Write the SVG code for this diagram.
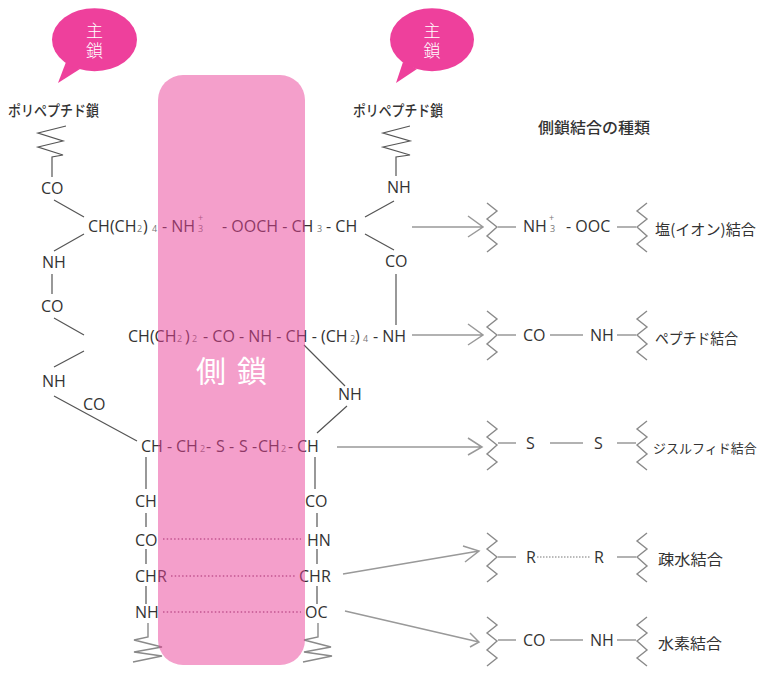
<svg xmlns="http://www.w3.org/2000/svg" xmlns:xlink="http://www.w3.org/1999/xlink" width="763" height="679" viewBox="0 0 763 679">
<style>
text{font-family:"Open Sans","Noto Sans","Noto Sans CJK JP",sans-serif;fill:#333;font-size:16px}
.s{font-size:9px;fill:#777}
.j{font-family:"Noto Sans CJK JP","Noto Sans",sans-serif;font-size:15px;fill:#333}
.t{font-weight:500}
.w{font-family:"Noto Sans CJK JP",sans-serif;fill:#fff;font-size:17px;text-anchor:middle;font-weight:300}
.b{fill:none;stroke:#555;stroke-width:1.2}
.g{fill:none;stroke:#8a8a8a;stroke-width:1.4}
.a{fill:none;stroke:#999;stroke-width:1.5}
.d{fill:none;stroke:#9c6a8a;stroke-width:1.5;stroke-dasharray:1.5 2.2}
.bub{fill:#ee409c}
</style>
<defs>
<path id="zz" class="g" d="M0 0L10 8L0 16L10 24L0 33L10 41L0 49"/>
<path id="zy" class="g" d="M10 0L0 8L10 16L0 24L10 33L0 41L10 49"/>
</defs>
<rect width="763" height="679" fill="#fff"/>
<g id="connectors">
<path class="b" d="M66 126L38 133L63 141L38 147L63 155L52 157V177"/>
<path class="b" d="M54 200L84 217M84 234L54 251M52 274V294M54 318L84 335M84 351L54 367M54 396L137 441"/>
<path class="b" d="M304 345L345 386M347 406L317 433"/>
<path class="b" d="M146 457V489M146 513V527M146 549V564M146 586V604"/>
<path class="g" d="M148 623V637L134 640L162 647L134 652L162 656L133 662"/>
<path class="b" d="M315 457V489M317 513V527M317 549V564M317 586V604"/>
<path class="g" d="M318 623V637L304 640L331 647L304 652L332 656L303 662"/>
<path class="b" d="M410 126L383 133L410 141L383 147L410 155L396 157V176M394 201L365 217M365 234L394 250M396 274V325"/>
<path class="d" d="M163 539H301M171 576H296M163 612H301"/>
<path class="a" d="M412 227H483M468 216L483 227L468 237"/>
<path class="a" d="M412 335H483M468 324L483 335L468 345"/>
<path class="a" d="M337 447H482M468 438L482 447L468 455"/>
<path class="a" d="M343 574L479 551M463 546L479 551L465 562"/>
<path class="a" d="M345 611L479 642M470 633L479 642L470 647"/>
</g>
<g id="chain-text">
<text x="41" y="194">CO</text>
<text x="88" y="232">CH(CH<tspan class="s" x="137">2</tspan><tspan x="143">)</tspan><tspan class="s" x="152">4</tspan><tspan x="162">- NH</tspan><tspan class="s" x="198">3</tspan></text>
<text class="s" x="198" y="221">+</text>
<text x="222" y="232">- OOCH - CH<tspan class="s" x="317">3</tspan><tspan x="326">- CH</tspan></text>
<text x="42" y="268">NH</text>
<text x="41" y="312">CO</text>
<text x="128" y="342">CH(CH<tspan class="s" x="177">2</tspan><tspan x="185">)</tspan><tspan class="s" x="192">2</tspan><tspan x="203">- CO - NH - CH - (CH</tspan><tspan class="s" x="350">2</tspan><tspan x="355">)</tspan><tspan class="s" x="363">4</tspan><tspan x="373">- NH</tspan></text>
<text x="42" y="387">NH</text>
<text x="83" y="410">CO</text>
<text x="338" y="400">NH</text>
<text x="141" y="452">CH<tspan x="167">-</tspan><tspan x="176">CH</tspan><tspan class="s" x="200">2</tspan><tspan x="206">-</tspan><tspan x="216">S</tspan><tspan x="229">-</tspan><tspan x="239">S</tspan><tspan x="252">-</tspan><tspan x="258">CH</tspan><tspan class="s" x="281">2</tspan><tspan x="288">-</tspan><tspan x="297">CH</tspan></text>
<text x="135" y="507">CH</text>
<text x="135" y="546">CO</text>
<text x="135" y="582">CHR</text>
<text x="135" y="618">NH</text>
<text x="305" y="507">CO</text>
<text x="307" y="546">HN</text>
<text x="299" y="582">CHR</text>
<text x="305" y="618">OC</text>
<text x="387" y="193">NH</text>
<text x="385" y="267">CO</text>
</g>
<rect id="side-chain-band" x="158" y="75" width="147" height="590" rx="25" fill="#e93f97" fill-opacity="0.5"/>
<g id="side-chain-label"><text x="196" y="382" style="font-family:'Noto Sans CJK JP',sans-serif;fill:#fff;font-size:30px">側</text><text x="237" y="382" style="font-family:'Noto Sans CJK JP',sans-serif;fill:#fff;font-size:30px">鎖</text></g>
<g id="bubble-left">
<path class="bub" d="M66 62L58 83L80 69Z"/>
<ellipse class="bub" cx="94.5" cy="39.7" rx="42.5" ry="31.5"/>
<text class="w" x="94.5" y="37">主</text>
<text class="w" x="94.5" y="57">鎖</text>
</g>
<g id="bubble-right">
<path class="bub" d="M403 62L396 83L417 69Z"/>
<ellipse class="bub" cx="432" cy="39.7" rx="42" ry="31.5"/>
<text class="w" x="432" y="37">主</text>
<text class="w" x="432" y="57">鎖</text>
</g>
<g id="title-left"><text class="j t" x="8" y="116" textLength="91" lengthAdjust="spacingAndGlyphs">ポリペプチド鎖</text></g>
<g id="title-right"><text class="j t" x="353" y="116" textLength="90" lengthAdjust="spacingAndGlyphs">ポリペプチド鎖</text></g>
<g id="title-types"><text class="j t" x="538" y="133" textLength="112" lengthAdjust="spacingAndGlyphs">側鎖結合の種類</text></g>
<g id="row-ionic">
<use xlink:href="#zz" href="#zz" x="487" y="203"/><use xlink:href="#zy" href="#zy" x="637" y="203"/>
<path class="a" d="M498 227H516M617 227H636"/>
<text x="523" y="232">NH</text><text class="s" x="550" y="232">3</text><text class="s" x="549" y="221">+</text>
<text x="566" y="232">- OOC</text>
<text class="j" x="655" y="235" textLength="101" lengthAdjust="spacingAndGlyphs">塩(イオン)結合</text>
</g>
<g id="row-peptide">
<use xlink:href="#zz" href="#zz" x="487" y="311"/><use xlink:href="#zy" href="#zy" x="637" y="311"/>
<path class="a" d="M498 335H516M550 335H583M617 335H636"/>
<text x="523" y="341">CO</text><text x="590" y="341">NH</text>
<text class="j" x="655" y="344" textLength="83" lengthAdjust="spacingAndGlyphs">ペプチド結合</text>
</g>
<g id="row-disulfide">
<use xlink:href="#zz" href="#zz" x="487" y="421"/><use xlink:href="#zy" href="#zy" x="637" y="421"/>
<path class="a" d="M498 443H516M550 443H583M617 443H636"/>
<text x="526" y="449">S</text><text x="594" y="449">S</text>
<text class="j" x="653" y="453" style="font-size:13px">ジスルフィド結合</text>
</g>
<g id="row-hydrophobic">
<use xlink:href="#zz" href="#zz" x="487" y="533"/><use xlink:href="#zy" href="#zy" x="637" y="533"/>
<path class="a" d="M498 557H516M617 557H636"/>
<path d="M537 557H590" fill="none" stroke="#777" stroke-width="1" stroke-dasharray="1.5 1.5"/>
<text x="526" y="563">R</text><text x="594" y="563">R</text>
<text class="j" x="658" y="565" textLength="65" lengthAdjust="spacingAndGlyphs">疎水結合</text>
</g>
<g id="row-hydrogen">
<use xlink:href="#zz" href="#zz" x="487" y="617"/><use xlink:href="#zy" href="#zy" x="637" y="617"/>
<path class="a" d="M498 640H516M550 640H583M617 640H636"/>
<text x="523" y="646">CO</text><text x="590" y="646">NH</text>
<text class="j" x="658" y="649" textLength="64" lengthAdjust="spacingAndGlyphs">水素結合</text>
</g>
</svg>
